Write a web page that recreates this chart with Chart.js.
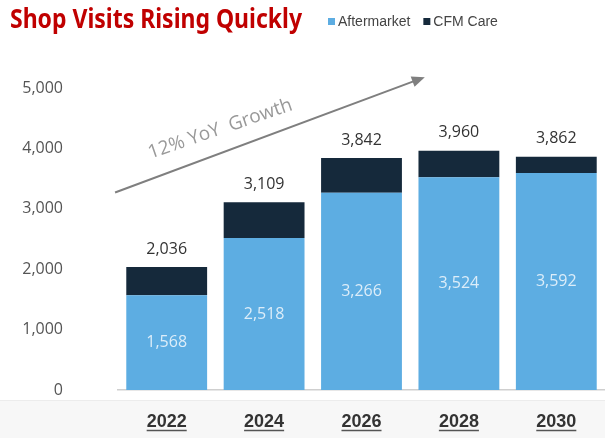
<!DOCTYPE html>
<html>
<head>
<meta charset="utf-8">
<script src="https://cdn.jsdelivr.net/npm/chart.js@4.4.1/dist/chart.umd.min.js"></script>
<style>
  html, body { margin: 0; padding: 0; background: #fff; overflow: hidden; }
  #wrap { position: relative; width: 605px; height: 438px; }
</style>
</head>
<body>
<div id="wrap"><canvas id="visits"></canvas></div>
<script>
const years = ['2022', '2024', '2026', '2028', '2030'];
const aftermarket = [1568, 2518, 3266, 3524, 3592];
const totalVisits = [2036, 3109, 3842, 3960, 3862];
// CFM Care is the dark cap on top of each bar
const cfmCare = totalVisits.map((t, i) => t - aftermarket[i]);

const seriesNames = ['Aftermarket', 'CFM Care'];
const seriesColors = ['#5dade2', '#15293b'];

const fmt = v => Number(v).toLocaleString('en-US');
const numFont = '16px "Open Sans"';

// title, legend, growth arrow, value labels and underlined years
const decor = {
    id: 'decor',
    beforeDraw(chart) {
        // pale strip behind the year labels
        const ctx = chart.ctx;
        const b = chart.chartArea.bottom;
        ctx.save();
        ctx.fillStyle = '#f7f7f7';
        ctx.fillRect(0, b + 11, chart.width, chart.height - b - 11);
        ctx.fillStyle = '#ececec';
        ctx.fillRect(0, b + 10, chart.width, 1);
        ctx.restore();
    },
    afterDatasetsDraw(chart) {
        const ctx = chart.ctx;
        const low = chart.getDatasetMeta(0);
        const top = chart.getDatasetMeta(1);
        ctx.save();
        ctx.font = numFont;
        ctx.textAlign = 'center';
        ctx.textBaseline = 'middle';
        low.data.forEach((bar, i) => {
            ctx.fillStyle = '#dcedf9';
            ctx.fillText(fmt(aftermarket[i]), bar.x, (bar.y + bar.base) / 2);
            ctx.fillStyle = '#333';
            ctx.fillText(fmt(totalVisits[i]), top.data[i].x, top.data[i].y - 18);
        });
        ctx.restore();
    },
    afterDraw(chart) {
        const ctx = chart.ctx;
        const x = chart.scales.x, y = chart.scales.y;

        // title
        ctx.save();
        ctx.font = 'bold 27px "Noto Sans"';
        ctx.fillStyle = '#c00000';
        ctx.textBaseline = 'alphabetic';
        const title = 'Shop Visits Rising Quickly';
        const tw = ctx.measureText(title).width;
        ctx.translate(10, 28);
        ctx.scale(292 / tw, 1);
        ctx.fillText(title, 0, 0);
        ctx.restore();

        // legend
        ctx.save();
        ctx.font = '14px "Liberation Sans"';
        ctx.textBaseline = 'middle';
        let lx = 328;
        seriesNames.forEach((name, i) => {
            ctx.fillStyle = seriesColors[i];
            ctx.fillRect(lx, 18, 7, 7);
            ctx.fillStyle = '#444';
            ctx.fillText(name, lx + 10, 22);
            lx += 10 + ctx.measureText(name).width + 13;
        });
        ctx.restore();

        // growth arrow
        const x0 = x.getPixelForValue(-0.53), y0 = y.getPixelForValue(3270);
        const x1 = x.getPixelForValue(2.65), y1 = y.getPixelForValue(5180);
        const ang = Math.atan2(y1 - y0, x1 - x0);
        ctx.save();
        ctx.strokeStyle = '#7f7f7f';
        ctx.fillStyle = '#7f7f7f';
        ctx.lineWidth = 2;
        ctx.beginPath();
        ctx.moveTo(x0, y0);
        ctx.lineTo(x1 - 10 * Math.cos(ang), y1 - 10 * Math.sin(ang));
        ctx.stroke();
        ctx.translate(x1, y1);
        ctx.rotate(ang);
        ctx.beginPath();
        ctx.moveTo(0, 0);
        ctx.lineTo(-13, -5.5);
        ctx.lineTo(-13, 5.5);
        ctx.closePath();
        ctx.fill();
        ctx.restore();

        ctx.save();
        ctx.font = '19px "Open Sans"';
        ctx.fillStyle = '#999';
        ctx.textAlign = 'center';
        ctx.textBaseline = 'middle';
        ctx.translate(x.getPixelForValue(0.55), y.getPixelForValue(4320));
        ctx.rotate(ang * 0.93);
        ctx.fillText('12% YoY  Growth', 0, 0);
        ctx.restore();

        // underline the year labels
        ctx.save();
        ctx.font = 'bold 18px "Liberation Sans"';
        ctx.strokeStyle = '#555';
        ctx.lineWidth = 1.5;
        const uy = Math.round(chart.chartArea.bottom + 40) + 0.5;
        years.forEach((yr, i) => {
            const cx = x.getPixelForTick(i);
            const w = ctx.measureText(yr).width;
            ctx.beginPath();
            ctx.moveTo(cx - w / 2, uy);
            ctx.lineTo(cx + w / 2, uy);
            ctx.stroke();
        });
        ctx.restore();
    }
};

new Chart(document.getElementById('visits'), {
    type: 'bar',
    data: {
        labels: years,
        datasets: [
            { label: seriesNames[0], data: aftermarket, backgroundColor: seriesColors[0] },
            { label: seriesNames[1], data: cfmCare, backgroundColor: seriesColors[1] }
        ]
    },
    options: {
        responsive: true,
        maintainAspectRatio: false,
        animation: false,
        devicePixelRatio: 1,
        barPercentage: 0.83,
        categoryPercentage: 1,
        layout: { padding: { top: 88, right: 0, left: 0, bottom: 0 } },
        plugins: {
            legend: { display: false },
            tooltip: { enabled: false }
        },
        scales: {
            x: {
                stacked: true,
                grid: { display: false, drawTicks: false },
                border: { color: '#cfcfcf', width: 1.5 },
                ticks: { color: '#333', font: { family: 'Liberation Sans', size: 18, weight: 'bold' }, padding: 21 },
                afterFit: s => { s.height = 48; }
            },
            y: {
                stacked: true,
                min: 0,
                max: 5000,
                grid: { display: false, drawTicks: false },
                border: { display: false },
                ticks: {
                    stepSize: 1000,
                    color: '#555',
                    font: { family: 'Open Sans', size: 16 },
                    padding: 55,
                    callback: v => fmt(v)
                },
                afterFit: s => {
                    // the wide tick padding would otherwise push the bottom up
                    s.width = 118;
                    s.paddingTop = 10;
                    s.paddingBottom = 10;
                }
            }
        }
    },
    plugins: [decor]
});
</script>
</body>
</html>
